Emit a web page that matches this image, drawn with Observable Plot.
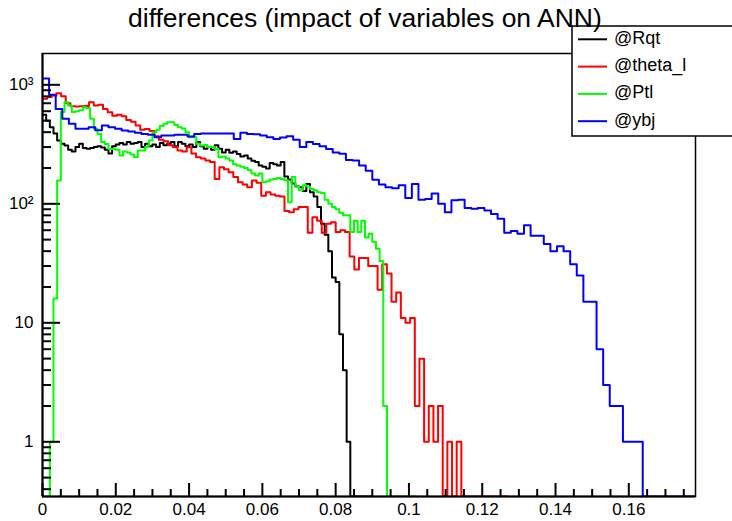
<!DOCTYPE html>
<html><head><meta charset="utf-8">
<script src="https://cdn.jsdelivr.net/npm/d3@7"></script>
<script src="https://cdn.jsdelivr.net/npm/@observablehq/plot@0.6"></script>
<style>
body{margin:0;background:#fff;}
#wrap{position:relative;width:732px;height:521px;font-family:"Liberation Sans",Arial,Helvetica,sans-serif;}
#wrap svg{position:absolute;left:0;top:0;}
</style></head><body><div id="wrap"></div>
<script>
const titleText = "differences (impact of variables on ANN)";
const seriesNames = ["@Rqt", "@theta_l", "@Ptl", "@ybj"];
const seriesColors = ["#000000", "#ff0000", "#00ff00", "#0000ff"];
const binWidths = [0.001, 0.00127, 0.001, 0.0018];

const rqt = [560,500,440,390,340,320,309,285,275,300,
  320,295,290,295,300,305,298,285,265,305,
  315,325,315,330,320,325,330,300,320,305,
  315,300,325,310,320,330,305,330,320,305,
  315,300,330,305,290,300,285,310,290,270,
  285,268,275,262,250,255,240,230,225,210,
  205,198,220,215,210,225,170,160,148,140,
  138,128,147,125,115,94,68,55,40,24,
  22,8,4,1,0,0,0,0,0,0];

const thetaL = [762,790,813,850,800,700,660,656,662,665,
  714,670,680,627,589,550,560,545,505,490,
  455,420,425,410,370,345,335,310,300,280,
  275,299,265,246,240,231,225,162,203,195,
  184,168,152,145,138,157,150,117,125,120,
  117,115,87,85,90,94,94,57,77,72,
  57,68,70,58,60,58,36,28,35,35,
  30,30,19,31,26,15,18,11,10,11,
  2,5,1,2,1,2,0,1,0,1,
  0,0,0,0,0,0,0,0,0,0];

const ptl = [0,0,1,16,157,590,714,670,590,600,
  610,648,640,518,427,387,330,318,289,289,
  285,255,275,270,260,246,280,280,300,340,
  398,420,450,470,485,485,460,440,430,400,
  363,363,320,309,312,300,300,289,246,250,
  240,231,215,210,205,200,192,180,173,180,
  152,155,160,162,165,162,158,103,168,140,
  130,143,140,133,130,125,123,108,100,94,
  90,84,80,80,58,72,58,72,52,56,
  48,42,33,2,0,0,0,0,0,0,
  0,0];

const ybj = [1130,824,627,518,470,427,427,440,415,455,
  440,427,413,405,395,387,380,363,375,375,
  380,380,368,387,390,390,390,390,390,351,
  395,387,385,375,363,350,360,370,345,300,
  330,318,305,289,270,263,234,231,210,190,
  159,145,138,135,143,112,147,108,110,122,
  100,85,107,108,92,91,92,88,82,75,
  57,59,56,66,54,54,46,40,44,40,
  31,25,15,15,6,3,2,2,1,1,
  1,0,0,0,0,0,0,0,0];

const seriesValues = [rqt, thetaL, ptl, ybj];

const xDomain = [0, 0.1782];
const yDomain = [0.347, 1833];
const xTicks = [0, 0.02, 0.04, 0.06, 0.08, 0.1, 0.12, 0.14, 0.16];
const xTickLabels = ["0", "0.02", "0.04", "0.06", "0.08", "0.1", "0.12", "0.14", "0.16"];
const xMinorTicks = [0.005,0.01,0.015,0.025,0.03,0.035,0.045,0.05,0.055,0.065,0.07,0.075,0.085,0.09,0.095,0.105,0.11,0.115,0.125,0.13,0.135,0.145,0.15,0.155,0.165,0.17,0.175];
const yTicks = [1, 10, 100, 1000];
const yTickLabels = ["1", "10", "10\u00B2", "10\u00B3"];
const yMinorTicks = [0.4,0.5,0.6,0.7,0.8,0.9,2,3,4,5,6,7,8,9,20,30,40,50,60,70,80,90,200,300,400,500,600,700,800,900];

function histRows(values, w) {
  const pts = values.map((v, i) => ({x: i * w, y: Math.max(v, yDomain[0])}));
  pts.push({x: values.length * w, y: Math.max(values[values.length - 1], yDomain[0])});
  return pts;
}

const lineMarks = seriesValues.map((vals, k) =>
  Plot.line(histRows(vals, binWidths[k]), {x: "x", y: "y", curve: "step-after", stroke: seriesColors[k], strokeWidth: 2, clip: true})
);

const chart = Plot.plot({
  width: 732, height: 521,
  marginTop: 53, marginBottom: 25, marginLeft: 42, marginRight: 37,
  style: {fontFamily: "'Liberation Sans', Arial, Helvetica, sans-serif", fontSize: "17px", color: "black", background: "white"},
  x: {domain: xDomain},
  y: {type: "log", domain: yDomain},
  marks: [
    ...lineMarks,
    Plot.frame({stroke: "black", strokeWidth: 1.5}),
    Plot.ruleX([xDomain[0]], {stroke: "black", strokeWidth: 2}),
    Plot.ruleY([yDomain[0]], {stroke: "black", strokeWidth: 2}),
    Plot.axisX(xTicks, {tickSize: -13, strokeWidth: 2, fill: "none", label: null}),
    Plot.axisX(xMinorTicks, {tickSize: -7, strokeWidth: 2, fill: "none", label: null}),
    Plot.axisX(xTicks, {tickSize: 0, tickPadding: 6, fontSize: 17, label: null, tickFormat: d => xTickLabels[xTicks.indexOf(d)]}),
    Plot.axisY(yTicks, {tickSize: -18, strokeWidth: 2, fill: "none", label: null}),
    Plot.axisY(yMinorTicks, {tickSize: -9, strokeWidth: 2, fill: "none", label: null}),
    Plot.axisY(yTicks, {tickSize: 0, tickPadding: 9, fontSize: 17, label: null, tickFormat: d => yTickLabels[yTicks.indexOf(d)]})
  ]
});
document.getElementById("wrap").appendChild(chart);

// overlay: legend box and title
const ov = d3.select("#wrap").append("svg")
  .attr("width", 732).attr("height", 521)
  .style("font-family", "'Liberation Sans', Arial, Helvetica, sans-serif");
ov.append("rect").attr("x", 572).attr("y", 26).attr("width", 170).attr("height", 110)
  .attr("fill", "white").attr("stroke", "black").attr("stroke-width", 1.5);
seriesNames.forEach((name, k) => {
  const cy = 39.3 + k * 27.3;
  ov.append("line").attr("x1", 578).attr("x2", 607).attr("y1", cy).attr("y2", cy)
    .attr("stroke", seriesColors[k]).attr("stroke-width", 2);
  ov.append("text").attr("x", 614).attr("y", cy + 4.5).attr("font-size", 18)
    .attr("dominant-baseline", "auto").attr("fill", "black").text(name);
});
ov.append("text").attr("x", 128).attr("y", 27).attr("font-size", 26.5).attr("fill", "black").text(titleText);
</script></body></html>
